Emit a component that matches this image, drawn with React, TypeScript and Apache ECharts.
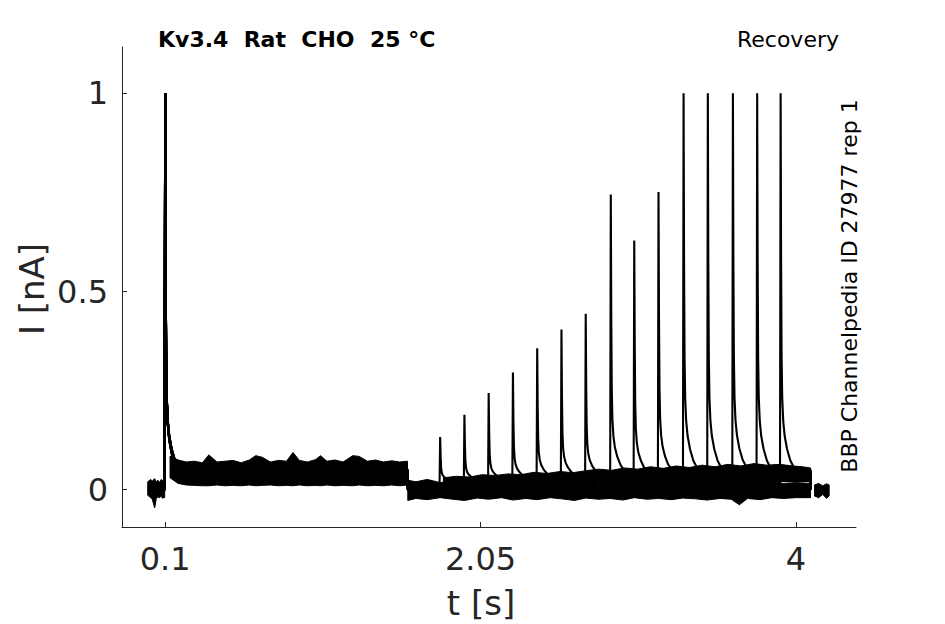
import React, { useEffect, useRef } from "react";
import * as echarts from "echarts";

// ---- data ----
const FIRST_PULSE_T = 0.1;
const FIRST_PULSE_PEAK = 1.0;
const FIRST_PULSE_END = 1.6;
const SWEEP_START = -0.006;
const SWEEP_END = 4.09;

const SPIKE_TIMES = [1.80, 1.95, 2.10, 2.25, 2.40, 2.55, 2.70, 2.855, 3.00, 3.15, 3.305, 3.455, 3.61, 3.76, 3.905];
const SPIKE_PEAKS = [0.133, 0.189, 0.244, 0.296, 0.357, 0.404, 0.444, 0.745, 0.629, 0.751, 1, 1, 1, 1, 1];
const PLATEAU_FIRST = [0.042, 0.048, 0.038, 0.052, 0.045, 0.04, 0.05, 0.044, 0.047, 0.041, 0.049, 0.043, 0.046, 0.051, 0.039];
const PLATEAU_SECOND = [0.022, 0.024, 0.027, 0.03, 0.033, 0.036, 0.038, 0.045, 0.042, 0.046, 0.05, 0.05, 0.052, 0.05, 0.05];

// spike kinetics (time after peak, fraction of peak above plateau)
const RISE_DT = 0.004;
const DECAY_DT = [0, 0.003, 0.006, 0.01, 0.016, 0.025, 0.04, 0.06, 0.09];
const DECAY_FRAC = [1, 0.55, 0.3, 0.19, 0.13, 0.09, 0.055, 0.025, 0];

// noise envelopes
const PRE_T = [-0.008, 0.01, 0.02, 0.035, 0.045, 0.055, 0.065, 0.075, 0.085, 0.092, 0.097];
const PRE_HI = [0.02, 0.026, 0.022, 0.028, 0.02, 0.024, 0.018, 0.026, 0.022, 0.028, 0.024];
const PRE_LO = [-0.014, -0.02, -0.024, -0.046, -0.022, -0.018, -0.02, -0.016, -0.022, -0.018, -0.02];

const P1_T = [0.13, 0.18, 0.23, 0.28, 0.33, 0.37, 0.42, 0.47, 0.52, 0.57, 0.62, 0.66, 0.70, 0.75, 0.80, 0.85, 0.89, 0.93, 0.98, 1.03, 1.06, 1.10, 1.15, 1.20, 1.26, 1.30, 1.35, 1.40, 1.45, 1.50, 1.55, 1.598];
const P1_HI = [0.085, 0.075, 0.07, 0.072, 0.068, 0.088, 0.07, 0.072, 0.074, 0.068, 0.075, 0.086, 0.082, 0.07, 0.074, 0.072, 0.094, 0.074, 0.07, 0.076, 0.086, 0.072, 0.075, 0.07, 0.086, 0.084, 0.072, 0.075, 0.07, 0.073, 0.07, 0.072];
const P1_LO = [0.03, 0.016, 0.012, 0.011, 0.01, 0.01, 0.012, 0.01, 0.011, 0.01, 0.012, 0.01, 0.011, 0.012, 0.01, 0.011, 0.01, 0.012, 0.01, 0.011, 0.01, 0.012, 0.01, 0.011, 0.01, 0.012, 0.01, 0.011, 0.01, 0.012, 0.01, 0.012];

const REC_T = [1.60, 1.65, 1.72, 1.80, 1.88, 1.95, 2.03, 2.10, 2.18, 2.25, 2.33, 2.40, 2.48, 2.55, 2.63, 2.70, 2.78, 2.85, 2.93, 3.00, 3.08, 3.15, 3.23, 3.30, 3.38, 3.45, 3.53, 3.60, 3.65, 3.70, 3.78, 3.85, 3.92, 4.00, 4.09];
const REC_HI = [0.024, 0.02, 0.026, 0.018, 0.022, 0.02, 0.025, 0.019, 0.023, 0.02, 0.026, 0.018, 0.022, 0.024, 0.02, 0.025, 0.019, 0.022, 0.02, 0.026, 0.021, 0.019, 0.024, 0.02, 0.023, 0.019, 0.025, 0.021, 0.02, 0.024, 0.019, 0.022, 0.016, 0.018, 0.016];
const REC_LO = [-0.027, -0.022, -0.025, -0.02, -0.024, -0.027, -0.021, -0.024, -0.02, -0.026, -0.022, -0.025, -0.02, -0.023, -0.027, -0.021, -0.024, -0.022, -0.026, -0.02, -0.024, -0.022, -0.025, -0.021, -0.023, -0.026, -0.022, -0.024, -0.038, -0.022, -0.025, -0.02, -0.022, -0.02, -0.02];

const P2_T = [1.82, 1.90, 1.98, 2.06, 2.14, 2.22, 2.30, 2.38, 2.46, 2.54, 2.62, 2.70, 2.78, 2.86, 2.94, 3.02, 3.10, 3.18, 3.26, 3.34, 3.42, 3.50, 3.58, 3.66, 3.74, 3.82, 3.90, 3.98, 4.04, 4.09];
const P2_HI = [0.03, 0.034, 0.032, 0.038, 0.036, 0.04, 0.038, 0.044, 0.041, 0.046, 0.043, 0.048, 0.052, 0.049, 0.055, 0.052, 0.058, 0.054, 0.06, 0.056, 0.062, 0.058, 0.064, 0.06, 0.066, 0.062, 0.064, 0.06, 0.058, 0.055];
const P2_LO = [0.016, 0.018, 0.017, 0.02, 0.019, 0.022, 0.021, 0.024, 0.023, 0.026, 0.025, 0.027, 0.03, 0.029, 0.031, 0.03, 0.033, 0.032, 0.034, 0.033, 0.036, 0.035, 0.037, 0.036, 0.038, 0.037, 0.04, 0.039, 0.04, 0.04];

const TAIL_T = [4.115, 4.14, 4.165, 4.19, 4.205];
const TAIL_HI = [0.012, 0.016, 0.01, 0.015, 0.012];
const TAIL_LO = [-0.016, -0.02, -0.012, -0.022, -0.015];

const X_TICKS = [0.1, 2.05, 4];
const Y_TICKS = [0, 0.5, 1];
const X_MIN = -0.167;
const X_MAX = 4.371;
const Y_MIN = -0.094;
const Y_MAX = 1.117;

const TITLE = "Kv3.4  Rat  CHO  25 °C";
const PROTOCOL = "Recovery";
const SOURCE = "BBP Channelpedia ID 27977 rep 1";
const X_NAME = "t [s]";
const Y_NAME = "I [nA]";

function spikePoints(t0: number, peak: number, base: number, plateau: number): number[][] {
  const pts: number[][] = [[t0 - RISE_DT, base]];
  for (let k = 0; k < DECAY_DT.length; k++) {
    pts.push([t0 + DECAY_DT[k], plateau + (peak - plateau) * DECAY_FRAC[k]]);
  }
  return pts;
}

function sweep(i: number): number[][] {
  const p1 = PLATEAU_FIRST[i];
  const p2 = PLATEAU_SECOND[i];
  return [
    [SWEEP_START, 0],
    ...spikePoints(FIRST_PULSE_T, FIRST_PULSE_PEAK, 0, p1),
    [FIRST_PULSE_END - 0.002, p1],
    [FIRST_PULSE_END + 0.001, 0],
    ...spikePoints(SPIKE_TIMES[i], SPIKE_PEAKS[i], 0, p2),
    [SWEEP_END - 0.002, p2],
    [SWEEP_END + 0.002, 0],
  ];
}

const BANDS = [
  { t: PRE_T, hi: PRE_HI, lo: PRE_LO },
  { t: P1_T, hi: P1_HI, lo: P1_LO },
  { t: REC_T, hi: REC_HI, lo: REC_LO },
  { t: P2_T, hi: P2_HI, lo: P2_LO },
  { t: TAIL_T, hi: TAIL_HI, lo: TAIL_LO },
];

const FONT = "'DejaVu Sans', 'Noto Sans', sans-serif";
const AXIS_COLOR = "#262626";

export default function App() {
  const ref = useRef<HTMLDivElement>(null);
  useEffect(() => {
    if (!ref.current) return;
    const chart = echarts.init(ref.current, undefined, { renderer: "svg" });
    const lineSeries = SPIKE_TIMES.map((_, i) => ({
      type: "line",
      data: sweep(i),
      showSymbol: false,
      symbol: "none",
      silent: true,
      z: 3,
      lineStyle: { color: "#000", width: 2.1 },
    }));
    const bandSeries = {
      type: "custom",
      silent: true,
      z: 2,
      data: BANDS.map((b) => [b.t[0], b.lo[0]]),
      renderItem: (params: any, api: any) => {
        const b = BANDS[params.dataIndex];
        const pts: number[][] = [];
        for (let k = 0; k < b.t.length; k++) pts.push(api.coord([b.t[k], b.hi[k]]));
        for (let k = b.t.length - 1; k >= 0; k--) pts.push(api.coord([b.t[k], b.lo[k]]));
        return {
          type: "polygon",
          shape: { points: pts },
          style: { fill: "#000", stroke: "#000", lineWidth: 1 },
        };
      },
    };
    const axisCommon = {
      type: "value",
      splitLine: { show: false },
      axisLine: { show: true, onZero: false, lineStyle: { color: AXIS_COLOR, width: 1 } },
    };
    chart.setOption({
      animation: false,
      grid: { left: 122, top: 47, width: 734, height: 480, containLabel: false, outerBoundsMode: "none" },
      xAxis: {
        ...axisCommon,
        min: X_MIN,
        max: X_MAX,
        axisTick: { show: true, inside: true, length: 5, customValues: X_TICKS, lineStyle: { color: AXIS_COLOR } },
        axisLabel: {
          customValues: X_TICKS,
          fontSize: 32,
          fontFamily: FONT,
          color: AXIS_COLOR,
          margin: 16,
          formatter: (v: number) => String(v),
        },
      },
      yAxis: {
        ...axisCommon,
        min: Y_MIN,
        max: Y_MAX,
        axisTick: { show: true, inside: true, length: 5, customValues: Y_TICKS, lineStyle: { color: AXIS_COLOR } },
        axisLabel: {
          customValues: Y_TICKS,
          fontSize: 32,
          fontFamily: FONT,
          color: AXIS_COLOR,
          margin: 14,
          formatter: (v: number) => String(v),
        },
      },
      graphic: [
        {
          type: "text", x: 158, y: 39,
          style: { text: TITLE, font: `bold 22px ${FONT}`, fill: "#000", align: "left", verticalAlign: "middle", textAlign: "left", textVerticalAlign: "middle" },
        },
        {
          type: "text", x: 839, y: 39,
          style: { text: PROTOCOL, font: `22px ${FONT}`, fill: "#000", align: "right", verticalAlign: "middle", textAlign: "right", textVerticalAlign: "middle" },
        },
        {
          type: "text", x: 849, y: 286, rotation: Math.PI / 2,
          style: { text: SOURCE, font: `22px ${FONT}`, fill: "#000", align: "center", verticalAlign: "middle", textAlign: "center", textVerticalAlign: "middle" },
        },
        {
          type: "text", x: 481, y: 603,
          style: { text: X_NAME, font: `34px ${FONT}`, fill: AXIS_COLOR, align: "center", verticalAlign: "middle", textAlign: "center", textVerticalAlign: "middle" },
        },
        {
          type: "text", x: 32, y: 289, rotation: Math.PI / 2,
          style: { text: Y_NAME, font: `34px ${FONT}`, fill: AXIS_COLOR, align: "center", verticalAlign: "middle", textAlign: "center", textVerticalAlign: "middle" },
        },
      ],
      series: [bandSeries, ...lineSeries],
    });
    return () => chart.dispose();
  }, []);
  return (
    <div
      ref={ref}
      style={{ position: "fixed", left: 0, top: 0, width: 945, height: 624, background: "#fff" }}
    />
  );
}
